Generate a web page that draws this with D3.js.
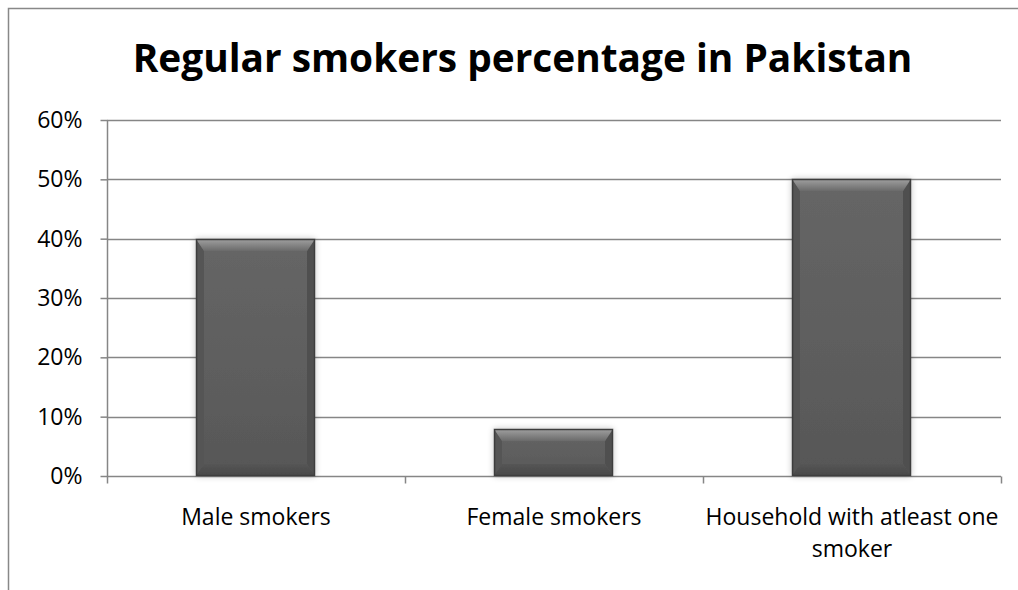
<!DOCTYPE html>
<html><head><meta charset="utf-8">
<script src="https://cdn.jsdelivr.net/npm/d3@7"></script>
<style>body{margin:0;background:#fff}svg{display:block}</style>
</head><body>
<svg id="c" width="1018" height="590"></svg>
<script>
const categories = ["Male smokers", "Female smokers", "Household with atleast one smoker"];
const values = [0.40, 0.08, 0.50];
const yTicks = [0, 0.1, 0.2, 0.3, 0.4, 0.5, 0.6];
const title = "Regular smokers percentage in Pakistan";

const svg = d3.select("#c");
const FONT = "'Open Sans', 'Liberation Sans', sans-serif";
const FS = 23;
const m = {left:107, right:1001, top:120, bottom:476};

// defs
const defs = svg.append("defs");
const body = defs.append("linearGradient").attr("id","gBody").attr("x1",0).attr("y1",0).attr("x2",0).attr("y2",1);
body.append("stop").attr("offset","0%").attr("stop-color","#666");
body.append("stop").attr("offset","100%").attr("stop-color","#575757");
const topG = defs.append("linearGradient").attr("id","gTop").attr("x1",0).attr("y1",0).attr("x2",0).attr("y2",1);
topG.append("stop").attr("offset","0%").attr("stop-color","#a0a0a0");
topG.append("stop").attr("offset","100%").attr("stop-color","#6a6a6a");
const botG = defs.append("linearGradient").attr("id","gBot").attr("x1",0).attr("y1",0).attr("x2",0).attr("y2",1);
botG.append("stop").attr("offset","0%").attr("stop-color","#555");
botG.append("stop").attr("offset","100%").attr("stop-color","#484848");
const f = defs.append("filter").attr("id","shadow").attr("x","-20%").attr("y","-20%").attr("width","140%").attr("height","140%");
f.append("feGaussianBlur").attr("in","SourceAlpha").attr("stdDeviation",3).attr("result","b");
f.append("feComponentTransfer").attr("in","b").attr("result","b2").append("feFuncA").attr("type","linear").attr("slope",0.25);
const fm = f.append("feMerge");
fm.append("feMergeNode").attr("in","b2");
fm.append("feMergeNode").attr("in","SourceGraphic");

// chart border
svg.append("rect").attr("x",8.5).attr("y",8.5).attr("width",1030).attr("height",600)
  .attr("fill","none").attr("stroke","#888").attr("stroke-width",1.5);

const x = d3.scaleBand().domain(categories).range([m.left, m.right]).padding(0);
const y = d3.scaleLinear().domain([0, 0.6]).range([m.bottom, m.top]);

// gridlines
svg.append("g").selectAll("line").data(yTicks.filter(d=>d>0)).join("line")
  .attr("x1", m.left).attr("x2", m.right)
  .attr("y1", d=>Math.round(y(d))+0.5).attr("y2", d=>Math.round(y(d))+0.5)
  .attr("stroke","#868686").attr("stroke-width",1.5);

// y axis
const yAxis = d3.axisLeft(y).tickValues(yTicks).tickFormat(d3.format(".0%")).tickSize(7).tickPadding(18);
const gy = svg.append("g").attr("transform",`translate(${m.left+0.5},0)`).call(yAxis);
gy.select(".domain").attr("stroke","#868686").attr("stroke-width",1.5).attr("d",`M0,${m.top}V${m.bottom}`);
gy.selectAll(".tick line").attr("stroke","#868686").attr("stroke-width",1.5);
gy.selectAll(".tick text").attr("font-family",FONT).attr("font-size",FS).attr("fill","#000");

// x axis
const gx = svg.append("g").attr("transform",`translate(0,${m.bottom+0.5})`);
gx.append("line").attr("x1",m.left).attr("x2",m.right).attr("stroke","#868686").attr("stroke-width",1.5);
const edges = categories.map(c=>x(c)).concat([x(categories[categories.length-1])+x.bandwidth()]);
gx.selectAll(".tk").data(edges).join("line").attr("class","tk")
  .attr("x1",d=>d+0.5).attr("x2",d=>d+0.5).attr("y1",0).attr("y2",7)
  .attr("stroke","#868686").attr("stroke-width",1.5);

// category labels with wrapping
const labels = gx.selectAll(".lbl").data(categories).join("text").attr("class","lbl")
  .attr("x", d=>x(d)+x.bandwidth()/2).attr("y", 48.5)
  .attr("text-anchor","middle").attr("font-family",FONT).attr("font-size",FS).attr("fill","#000");
labels.each(function(d){
  const t = d3.select(this);
  const words = d.split(" ");
  let line = [];
  let ts = t.append("tspan").attr("x", x(d)+x.bandwidth()/2).attr("dy",0);
  words.forEach(w=>{
    line.push(w);
    ts.text(line.join(" "));
    if (ts.node().getComputedTextLength() > x.bandwidth()+6 && line.length>1){
      line.pop(); ts.text(line.join(" "));
      line=[w];
      ts = t.append("tspan").attr("x", x(d)+x.bandwidth()/2).attr("dy", 32).text(w);
    }
  });
});

// bars with bevel
const bw = x.bandwidth()/2.5;
const bars = svg.append("g").selectAll("g").data(categories.map((c,i)=>({c, v:values[i]}))).join("g")
  .attr("filter","url(#shadow)");
bars.each(function(d){
  const g = d3.select(this);
  const x0 = Math.round(x(d.c) + x.bandwidth()/2 - bw/2), x1 = x0 + Math.round(bw);
  const y0 = Math.round(y(d.v)), y1 = Math.round(y(0));
  const b = Math.min(12, (y1-y0)/2.5), s = 8;
  g.append("rect").attr("x",x0).attr("y",y0).attr("width",x1-x0).attr("height",y1-y0).attr("fill","url(#gBody)");
  g.append("path").attr("d",`M${x0},${y0}L${x0+s},${y0+b}L${x0+s},${y1-b}L${x0},${y1}Z`).attr("fill","#545454");
  g.append("path").attr("d",`M${x1},${y0}L${x1-s},${y0+b}L${x1-s},${y1-b}L${x1},${y1}Z`).attr("fill","#505050");
  g.append("path").attr("d",`M${x0},${y0}L${x1},${y0}L${x1-s},${y0+b}L${x0+s},${y0+b}Z`).attr("fill","url(#gTop)");
  g.append("path").attr("d",`M${x0},${y1}L${x1},${y1}L${x1-s},${y1-b}L${x0+s},${y1-b}Z`).attr("fill","url(#gBot)");
  g.append("rect").attr("x",x0+0.5).attr("y",y0+0.5).attr("width",x1-x0-1).attr("height",y1-y0-1)
    .attr("fill","none").attr("stroke","#3c3c3c").attr("stroke-width",1.5);
});

// title
const tt = svg.append("text").attr("x",522.5).attr("y",72).attr("text-anchor","middle")
  .attr("font-family",FONT).attr("font-weight","bold").attr("font-size",40).attr("fill","#000").text(title);
const w = tt.node().getComputedTextLength();
tt.attr("font-size", 40*780/w);
</script>
</body></html>
